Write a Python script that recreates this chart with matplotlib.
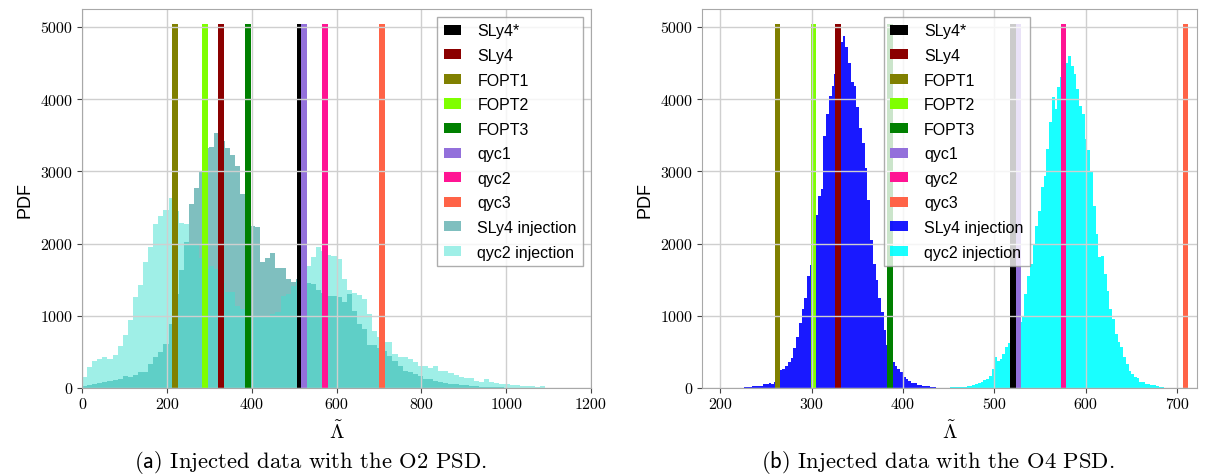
import numpy as np
import matplotlib
matplotlib.use("Agg")
import matplotlib.pyplot as plt

plt.rcParams['mathtext.fontset'] = 'cm'
plt.rcParams['font.family'] = ['Liberation Sans', 'DejaVu Sans']

# ---------------- data ----------------
eos_names = ['SLy4*', 'SLy4', 'FOPT1', 'FOPT2', 'FOPT3', 'qyc1', 'qyc2', 'qyc3']
eos_colors = ['black', 'darkred', 'olive', 'chartreuse', 'green',
              'mediumpurple', 'deeppink', 'tomato']
lambda_o2 = [515, 328, 219, 289, 391, 524, 572, 708]
lambda_o4 = [520.6, 329, 262.6, 302, 386, 526.7, 576, 709.5]
marker_height = 5045

# O2 PSD posteriors (bin width 12 starting at 0)
o2_bin_start = 0
o2_bin_width = 12
o2_sly4 = [32, 40, 55, 65, 78, 92, 115, 125, 171, 157,
           180, 217, 226, 332, 425, 494, 609, 886, 1300, 1639,
           2026, 2548, 2766, 3000, 3320, 3334, 3532, 3420, 3320, 3227,
           3080, 2687, 2450, 2248, 2225, 1741, 1800, 1870, 1658, 1658,
           1510, 1464, 1510, 1480, 1454, 1440, 1362, 1320, 1279, 1279,
           1256, 1187, 1302, 1071, 886, 817, 596, 596, 550, 517,
           447, 378, 309, 240, 217, 194, 171, 125, 125, 101,
           79, 70, 55, 50, 40, 35, 30, 25, 20, 15,
           12, 10, 8, 5, 3, 0, 0, 0, 0, 0, 0]
o2_qyc2 = [157, 286, 370, 402, 425, 402, 462, 587, 734, 946,
           1256, 1431, 1741, 1957, 2267, 2378, 2470, 2627, 2450, 2285,
           2271, 1994, 1994, 1800, 1648, 1694, 1648, 1450, 1325, 1325,
           1140, 1094, 1050, 1002, 979, 979, 1001, 1025, 1057, 1279,
           1302, 1417, 1486, 1600, 1694, 1810, 1949, 1900, 1842, 1833,
           1787, 1510, 1357, 1316, 1288, 1233, 1025, 794, 700, 633,
           633, 471, 425, 425, 402, 356, 309, 309, 273, 309,
           240, 240, 208, 180, 148, 140, 140, 101, 79, 125,
           79, 70, 55, 55, 42, 42, 32, 23, 23, 14, 23]

# O4 PSD posteriors (bin width 3)
o4_bin_width = 3
o4_sly4_start = 226
o4_sly4 = [8, 18, 15, 22, 28, 25, 30, 50, 55, 65,
           62, 90, 160, 250, 270, 309, 365, 420, 560, 700,
           900, 1100, 1250, 1550, 1700, 1950, 2400, 2664, 2756, 3494,
           3795, 4049, 4187, 4350, 4550, 4788, 4880, 4719, 4500, 4234,
           4187, 3888, 3600, 3400, 3050, 2600, 2050, 1717, 1500, 1250,
           1050, 800, 600, 450, 360, 300, 263, 217, 148, 125,
           95, 75, 65, 45, 40, 32, 32, 25, 15, 8]
o4_qyc2_start = 449
o4_qyc2 = [5, 8, 8, 12, 15, 18, 20, 28, 28, 40,
           55, 70, 79, 110, 125, 171, 263, 425, 378, 402,
           471, 563, 620, 700, 780, 850, 920, 1002, 1302, 1550,
           1720, 2000, 2250, 2450, 2779, 2941, 3310, 3680, 4026, 3864,
           4165, 4303, 4400, 4500, 4594, 4464, 4350, 4141, 3910, 3795,
           3449, 3300, 3000, 2525, 2133, 1810, 1833, 1579, 1348, 1094,
           956, 748, 632, 563, 425, 332, 240, 194, 148, 140,
           88, 80, 55, 50, 42, 35, 32, 20, 10]

captions = [r'$\mathsf{(a)}$ Injected data with the O2 PSD.',
            r'$\mathsf{(b)}$ Injected data with the O4 PSD.']


def hist_from_counts(ax, start, width, counts, **kw):
    counts = np.asarray(counts, float)
    edges = start + width * np.arange(len(counts) + 1)
    centers = 0.5 * (edges[:-1] + edges[1:])
    _, _, patches = ax.hist(centers, bins=edges, weights=counts,
                            histtype='stepfilled', linewidth=0, **kw)
    return patches[0]


def style(ax, xticks, xlim):
    ax.set_xlim(*xlim)
    ax.set_ylim(0, 5250)
    ax.set_xticks(xticks)
    ax.set_yticks([0, 1000, 2000, 3000, 4000, 5000])
    ax.grid(True, color='#cfcfcf', linewidth=1.0)
    for sp in ax.spines.values():
        sp.set_color('#a8a8a8')
    ax.tick_params(direction='out', length=3.5, color='#444444',
                   labelsize=11.5, labelfontfamily='cmr10')
    ax.set_ylabel('PDF', fontsize=13, family=['Liberation Sans'], labelpad=5)
    ax.set_xlabel(r'$\tilde{\Lambda}$', fontsize=15, labelpad=6)


def add_legend(ax, handles, **kw):
    ax.legend(handles, eos_names + ['SLy4 injection', 'qyc2 injection'],
              fontsize=11.5, labelspacing=0.6, handlelength=1.1,
              handleheight=0.6, handletextpad=1.0, fancybox=False,
              edgecolor='#999999', borderaxespad=0.5, **kw)


fig = plt.figure(figsize=(12.06, 4.77), dpi=100)
ax1 = fig.add_axes([82 / 1206, 88 / 477, 509 / 1206, 379 / 477])
ax2 = fig.add_axes([702 / 1206, 88 / 477, 495 / 1206, 379 / 477])

# ---- panel (a)
h_s = hist_from_counts(ax1, o2_bin_start, o2_bin_width, o2_sly4,
                       color='teal', alpha=0.5, label='SLy4 injection')
h_q = hist_from_counts(ax1, o2_bin_start, o2_bin_width, o2_qyc2,
                       color='turquoise', alpha=0.5, label='qyc2 injection')
handles = []
for name, col, lam in zip(eos_names, eos_colors, lambda_o2):
    handles.append(ax1.bar(lam, marker_height, width=14, color=col, label=name))
style(ax1, [0, 200, 400, 600, 800, 1000, 1200], (0, 1200))
add_legend(ax1, handles + [h_s, h_q], loc='upper right')

# ---- panel (b)
h_s = hist_from_counts(ax2, o4_sly4_start, o4_bin_width, o4_sly4,
                       color='blue', alpha=0.9, label='SLy4 injection')
h_q = hist_from_counts(ax2, o4_qyc2_start, o4_bin_width, o4_qyc2,
                       color='cyan', alpha=0.9, label='qyc2 injection')
handles = []
for name, col, lam in zip(eos_names, eos_colors, lambda_o4):
    handles.append(ax2.bar(lam, marker_height, width=6, color=col, label=name))
style(ax2, [200, 300, 400, 500, 600, 700], (180, 722))
add_legend(ax2, handles + [h_s, h_q], loc='upper center',
           bbox_to_anchor=(0.515, 1.0))

fig.text(310 / 1206, (477 - 463) / 477, captions[0], ha='center', va='center',
         fontsize=16.3, family='cmr10')
fig.text(938 / 1206, (477 - 463) / 477, captions[1], ha='center', va='center',
         fontsize=16.3, family='cmr10')

fig.savefig('out.png', dpi=100)
